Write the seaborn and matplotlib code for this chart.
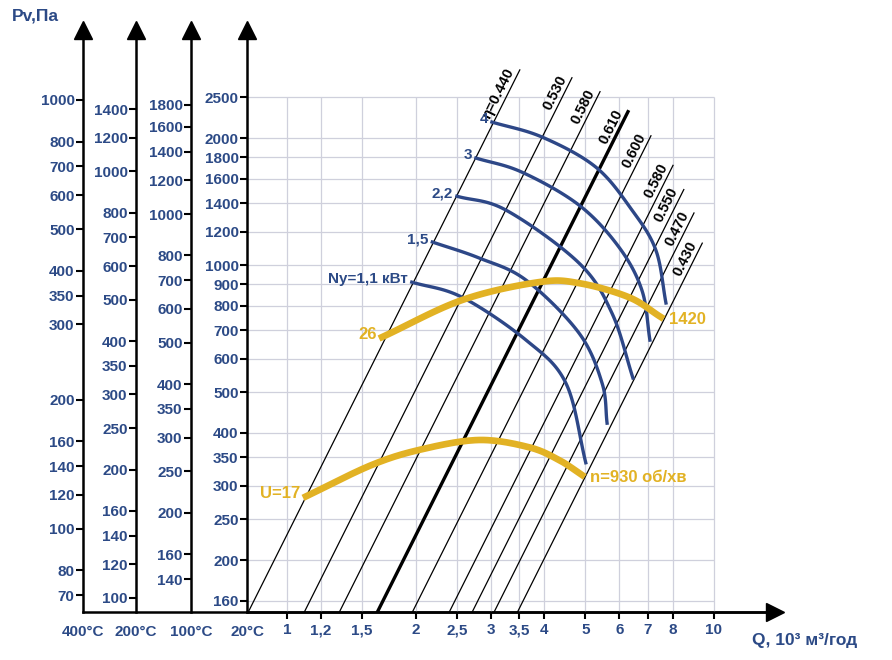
import numpy as np
import pandas as pd
import matplotlib
matplotlib.use("Agg")
import matplotlib.pyplot as plt
import seaborn as sns

plt.rcParams["font.family"] = "Liberation Sans"
BLUE = "#2c4a86"
CURVE_BLUE = "#2d4787"
ORANGE = "#e2b224"
GRID = "#cfd0dc"

# ---------------- data ----------------
q_ticks = [1, 1.2, 1.5, 2, 2.5, 3, 3.5, 4, 5, 6, 7, 8, 10]
q_tick_labels = ["1", "1,2", "1,5", "2", "2,5", "3", "3,5", "4", "5", "6", "7", "8", "10"]
p_ticks_20 = [160, 200, 250, 300, 350, 400, 500, 600, 700, 800, 900, 1000, 1200, 1400, 1600, 1800, 2000, 2500]
p_ticks_100 = [140, 160, 200, 250, 300, 350, 400, 500, 600, 700, 800, 1000, 1200, 1400, 1600, 1800]
p_ticks_200 = [100, 120, 140, 160, 200, 250, 300, 350, 400, 500, 600, 700, 800, 1000, 1200, 1400]
p_ticks_400 = [70, 80, 100, 120, 140, 160, 200, 300, 350, 400, 500, 600, 700, 800, 1000]
temp_labels = ["400°C", "200°C", "100°C", "20°C"]

eta_labels = ["η=0.440", "0.530", "0.580", "0.610", "0.600", "0.580", "0.550", "0.470", "0.430"]
eta_q_bottom = [0.810, 1.096, 1.324, 1.625, 1.963, 2.395, 2.71, 3.05, 3.46]
eta_q_top = [3.51, 4.65, 5.41, 6.29, 7.12, 8.02, 8.50, 8.98, 9.39]
eta_p_bottom = 150.0

power_labels = ["Ny=1,1 кВт", "1,5", "2,2", "3", "4"]
power_q = [
    [1.96, 2.57, 3.63, 4.50, 5.01],
    [2.19, 2.82, 3.63, 4.83, 5.47, 5.62],
    [2.50, 3.26, 4.83, 5.77, 6.46],
    [2.77, 3.55, 4.83, 5.99, 6.78, 7.08],
    [3.02, 3.96, 5.29, 6.43, 7.31, 7.72],
]
power_p = [
    [911, 839, 664, 525, 340],
    [1134, 1039, 921, 690, 525, 422],
    [1456, 1349, 1011, 769, 540],
    [1793, 1660, 1387, 1103, 872, 664],
    [2182, 2010, 1706, 1349, 1085, 813],
]

speed_q = [
    [1.108, 1.58, 2.07, 2.82, 3.69, 4.34, 4.91],
    [1.67, 2.57, 3.89, 4.83, 6.32, 7.51],
]
speed_p = [
    [283, 336, 366, 385, 370, 345, 318],
    [675, 826, 911, 906, 839, 753],
]
speed_start_labels = ["U=17", "26"]
speed_end_labels = ["n=930 об/хв", "1420"]


def smooth(qs, ps, n=25):
    """Catmull-Rom curve through the read points (log-log space)."""
    x = np.log10(qs); y = np.log10(ps)
    pts = np.column_stack([x, y])
    pts = np.vstack([2 * pts[0] - pts[1], pts, 2 * pts[-1] - pts[-2]])
    out = []
    for i in range(1, len(pts) - 2):
        p0, p1, p2, p3 = pts[i - 1], pts[i], pts[i + 1], pts[i + 2]
        for t in np.linspace(0, 1, n, endpoint=False):
            t2, t3 = t * t, t * t * t
            out.append(0.5 * ((2 * p1) + (-p0 + p2) * t + (2 * p0 - 5 * p1 + 4 * p2 - p3) * t2
                              + (-p0 + 3 * p1 - 3 * p2 + p3) * t3))
    out.append(pts[-2])
    out = np.array(out)
    return 10 ** out[:, 0], 10 ** out[:, 1]


# ---------------- figure ----------------
W, H = 892, 660
fig = plt.figure(figsize=(W / 100, H / 100), dpi=100)
fig.patch.set_facecolor("white")


def fx(px):
    return px / W


def fy(py):
    return 1 - py / H


y_top, y_bot = 30, 612
# baseline axis line from 400C axis to arrow
base = fig.add_axes([fx(83), fy(y_bot), fx(775 - 83), fy(y_top) - fy(y_bot)])
base.set_axis_off()
base.plot([0, 1], [0, 0], color="black", lw=1.8, transform=base.transAxes, clip_on=False)

aux = [
    (83, (64.0, 1456), p_ticks_400),
    (136, (92.7, 2145), p_ticks_200),
    (191, (117.2, 2696), p_ticks_100),
]
for (xp, lim, ticks), tl in zip(aux, temp_labels[:3]):
    a = fig.add_axes([fx(xp), fy(y_bot), 0.001, fy(y_top) - fy(y_bot)])
    a.patch.set_visible(False)
    for s in ["top", "right", "bottom"]:
        a.spines[s].set_visible(False)
    a.spines["left"].set_linewidth(1.8)
    a.set_yscale("log")
    a.set_ylim(*lim)
    a.set_yticks(ticks)
    a.set_yticklabels([str(t) for t in ticks], fontsize=11, fontweight="bold", color=BLUE)
    a.yaxis.set_minor_locator(matplotlib.ticker.NullLocator())
    a.tick_params(axis="y", length=5, width=1.5, pad=1)
    a.set_xticks([])
    a.plot([0], [1], marker="^", ms=13, color="black", transform=a.transAxes, clip_on=False)
    fig.text(fx(xp), fy(632), tl, ha="center", va="center", fontsize=11, fontweight="bold", color=BLUE)

ax = fig.add_axes([fx(247), fy(y_bot), fx(775 - 247), fy(y_top) - fy(y_bot)])
ax.patch.set_visible(False)
ax.set_xscale("log")
ax.set_yscale("log")
ax.set_xlim(0.806, 13.9)
ax.set_ylim(150.6, 3606)
for s in ["top", "right"]:
    ax.spines[s].set_visible(False)
ax.spines["left"].set_linewidth(1.8)
ax.spines["bottom"].set_linewidth(1.8)
ax.set_xticks(q_ticks)
ax.set_xticklabels(q_tick_labels, fontsize=11, fontweight="bold", color=BLUE)
ax.set_yticks(p_ticks_20)
ax.set_yticklabels([str(t) for t in p_ticks_20], fontsize=11, fontweight="bold", color=BLUE)
ax.xaxis.set_minor_locator(matplotlib.ticker.NullLocator())
ax.yaxis.set_minor_locator(matplotlib.ticker.NullLocator())
ax.tick_params(length=5, width=1.5, pad=3)
ax.tick_params(axis="y", pad=1)
ax.plot([0], [1], marker="^", ms=13, color="black", transform=ax.transAxes, clip_on=False)
ax.plot([1], [0], marker=">", ms=13, color="black", transform=ax.transAxes, clip_on=False)
fig.text(fx(247), fy(632), temp_labels[3], ha="center", va="center", fontsize=11, fontweight="bold", color=BLUE)

# grid
ax.vlines(q_ticks, 150.6, 2500, color=GRID, lw=0.9, zorder=0)
ax.hlines(p_ticks_20, 0.806, 10, color=GRID, lw=0.9, zorder=0)

# efficiency lines
expo = 2.02
for lab, qb, qt in zip(eta_labels, eta_q_bottom, eta_q_top):
    q = np.array([qb, qt])
    p = eta_p_bottom * (q / qb) ** expo
    lw = 2.4 if lab == "0.610" else 0.9
    sns.lineplot(x=q, y=p, ax=ax, color="black", lw=lw, sort=False, estimator=None, zorder=2)
    ax.text(qt * 0.985, p[-1] * 0.99, lab, rotation=63.5, rotation_mode="anchor",
            ha="right", va="bottom", fontsize=10.5, fontweight="bold", color="black")

# power curves
for lab, qs, ps in zip(power_labels, power_q, power_p):
    sq, sp = smooth(qs, ps)
    sns.lineplot(x=sq, y=sp, ax=ax, color=CURVE_BLUE, lw=2.4, sort=False, estimator=None, zorder=3)
    ax.annotate(lab, (qs[0], ps[0]), xytext=(-3, 2), textcoords="offset points",
                ha="right", va="center", fontsize=11, fontweight="bold", color=BLUE)

# speed curves
for sl, el, qs, ps in zip(speed_start_labels, speed_end_labels, speed_q, speed_p):
    sq, sp = smooth(qs, ps)
    sns.lineplot(x=sq, y=sp, ax=ax, color=ORANGE, lw=4.8, sort=False, estimator=None, zorder=4)
    ax.annotate(sl, (qs[0], ps[0]), xytext=(-4, 2), textcoords="offset points",
                ha="right", va="center", fontsize=12, fontweight="bold", color=ORANGE)
    ax.annotate(el, (qs[-1], ps[-1]), xytext=(6, -2), textcoords="offset points",
                ha="left", va="center", fontsize=12, fontweight="bold", color=ORANGE)

ax.set_xlabel("")
ax.set_ylabel("")
fig.text(fx(12), fy(16), "Pv,Па", ha="left", va="center", fontsize=12.5, fontweight="bold", color=BLUE)
fig.text(fx(752), fy(640), "Q, 10³ м³/год", ha="left", va="center", fontsize=12.5, fontweight="bold", color=BLUE)

fig.savefig("out.png", dpi=100, facecolor="white")
